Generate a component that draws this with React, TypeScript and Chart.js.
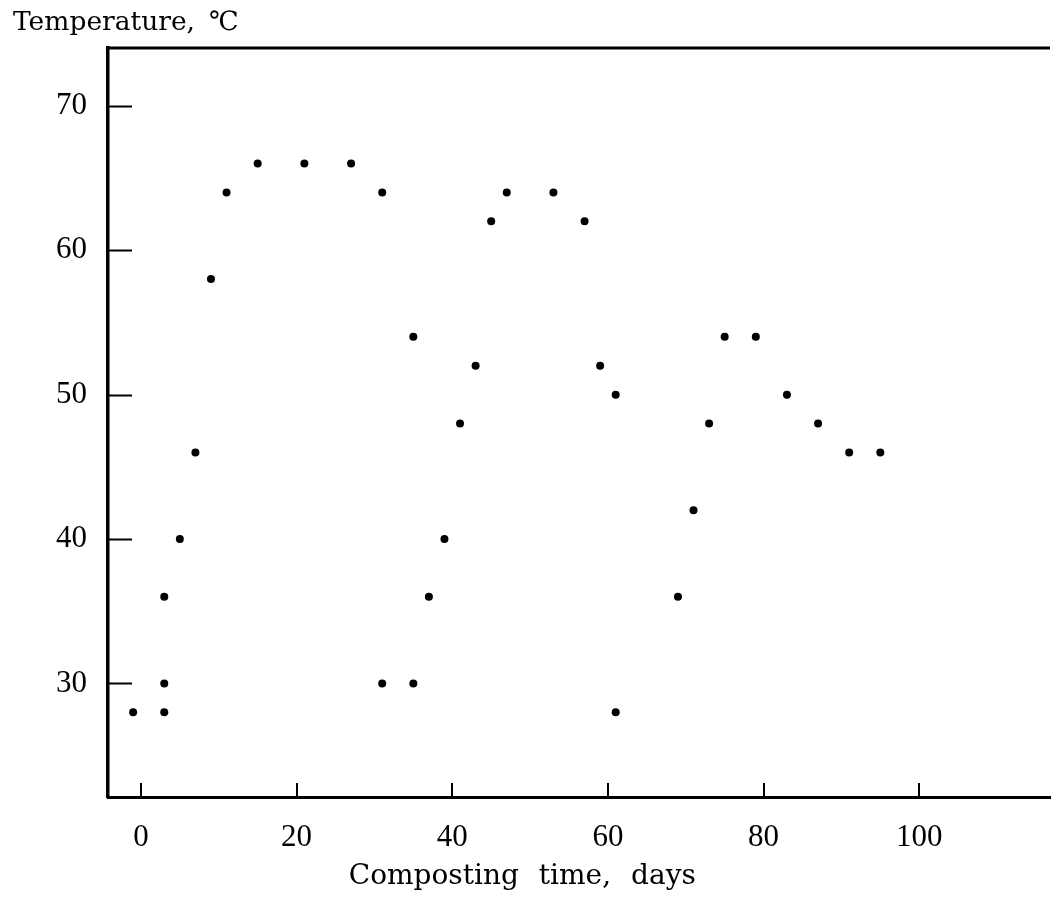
import React, { useEffect, useRef } from "react";
import { Chart, registerables } from "chart.js";

Chart.register(...registerables);

// Composting time (days) and temperature (°C)
const days = [-1, 3, 3, 3, 5, 7, 9, 11, 15, 21, 27, 31, 35, 31, 35, 37, 39, 41, 43, 45, 47, 53, 57, 59, 61, 61, 69, 71, 73, 75, 79, 83, 87, 91, 95];
const temps = [28, 28, 30, 36, 40, 46, 58, 64, 66, 66, 66, 64, 54, 30, 30, 36, 40, 48, 52, 62, 64, 64, 62, 52, 50, 28, 36, 42, 48, 54, 54, 50, 48, 46, 46];

const xTicks = [0, 20, 40, 60, 80, 100];
const yTicks = [30, 40, 50, 60, 70];

const xTitleWords = ["Composting", "time,", "days"];
const yTitleWords = ["Temperature,", "℃"];

const TICK_FONT = '"Liberation Serif", "Times New Roman", serif';
const TITLE_FONT = '"DejaVu Serif", "Liberation Serif", serif';

export default function App() {
  const ref = useRef<HTMLCanvasElement>(null);

  useEffect(() => {
    const canvas = ref.current;
    if (!canvas) return;

    const drawWords = (ctx: any, words: string[], x: number, y: number, gap: number) => {
      let cx = x;
      for (const w of words) {
        ctx.fillText(w, cx, y);
        cx += ctx.measureText(w).width + gap;
      }
    };
    const wordsWidth = (ctx: any, words: string[], gap: number) =>
      words.reduce((s, w) => s + ctx.measureText(w).width, 0) + gap * (words.length - 1);

    const framePlugin = {
      id: "frame",
      afterDraw(chart: any) {
        const ctx = chart.ctx;
        const { left, right, top, bottom } = chart.chartArea;
        const xs = chart.scales.x;
        const ys = chart.scales.y;
        ctx.save();
        ctx.strokeStyle = "#000";
        // top frame line
        ctx.lineWidth = 3;
        ctx.beginPath();
        ctx.moveTo(left, top);
        ctx.lineTo(right, top);
        ctx.stroke();
        // inward tick marks
        ctx.lineWidth = 2;
        ctx.beginPath();
        for (const v of yTicks) {
          const py = Math.round(ys.getPixelForValue(v)) + 0.5;
          ctx.moveTo(left, py);
          ctx.lineTo(left + 24, py);
        }
        for (const v of xTicks) {
          const px = Math.round(xs.getPixelForValue(v));
          ctx.moveTo(px, bottom);
          ctx.lineTo(px, bottom - 14);
        }
        ctx.stroke();
        // titles
        ctx.fillStyle = "#000";
        ctx.textBaseline = "alphabetic";
        ctx.textAlign = "left";
        ctx.font = `26.5px ${TITLE_FONT}`;
        drawWords(ctx, yTitleWords, 13, 30, 14);
        ctx.font = `28px ${TITLE_FONT}`;
        const gap = 20;
        const w = wordsWidth(ctx, xTitleWords, gap);
        drawWords(ctx, xTitleWords, xs.getPixelForValue(49) - w / 2, 884, gap);
        ctx.restore();
      },
    };

    const chart = new Chart(canvas, {
      type: "scatter",
      data: {
        datasets: [
          {
            data: days.map((d, i) => ({ x: d, y: temps[i] })),
            backgroundColor: "#000",
            borderColor: "#000",
            borderWidth: 0,
            pointRadius: 4,
            pointHoverRadius: 4,
          },
        ],
      },
      options: {
        animation: false,
        responsive: false,
        maintainAspectRatio: false,
        layout: { padding: { top: 48, right: 1, left: 0, bottom: 0 } },
        plugins: { legend: { display: false }, tooltip: { enabled: false } },
        scales: {
          x: {
            type: "linear",
            min: -4.23,
            max: 116.8,
            afterBuildTicks: (s: any) => {
              s.ticks = xTicks.map((v) => ({ value: v }));
            },
            afterFit: (s: any) => {
              s.height = 106;
            },
            grid: { display: false, drawTicks: false, drawOnChartArea: false },
            border: { display: true, color: "#000", width: 3 },
            ticks: {
              color: "#000",
              font: { family: TICK_FONT, size: 31 },
              padding: 22,
              maxRotation: 0,
              autoSkip: false,
            },
          },
          y: {
            type: "linear",
            min: 22.14,
            max: 74.0,
            afterBuildTicks: (s: any) => {
              s.ticks = yTicks.map((v) => ({ value: v }));
            },
            afterFit: (s: any) => {
              s.width = 108;
            },
            grid: { display: false, drawTicks: false, drawOnChartArea: false },
            border: { display: true, color: "#000", width: 3.5 },
            ticks: {
              color: "#000",
              font: { family: TICK_FONT, size: 31 },
              padding: 21,
              autoSkip: false,
            },
          },
        },
      },
      plugins: [framePlugin],
    });

    return () => chart.destroy();
  }, []);

  return (
    <div style={{ position: "absolute", left: 0, top: 0, width: 1054, height: 903, background: "#fff" }}>
      <canvas ref={ref} width={1054} height={903} style={{ display: "block" }} />
    </div>
  );
}
